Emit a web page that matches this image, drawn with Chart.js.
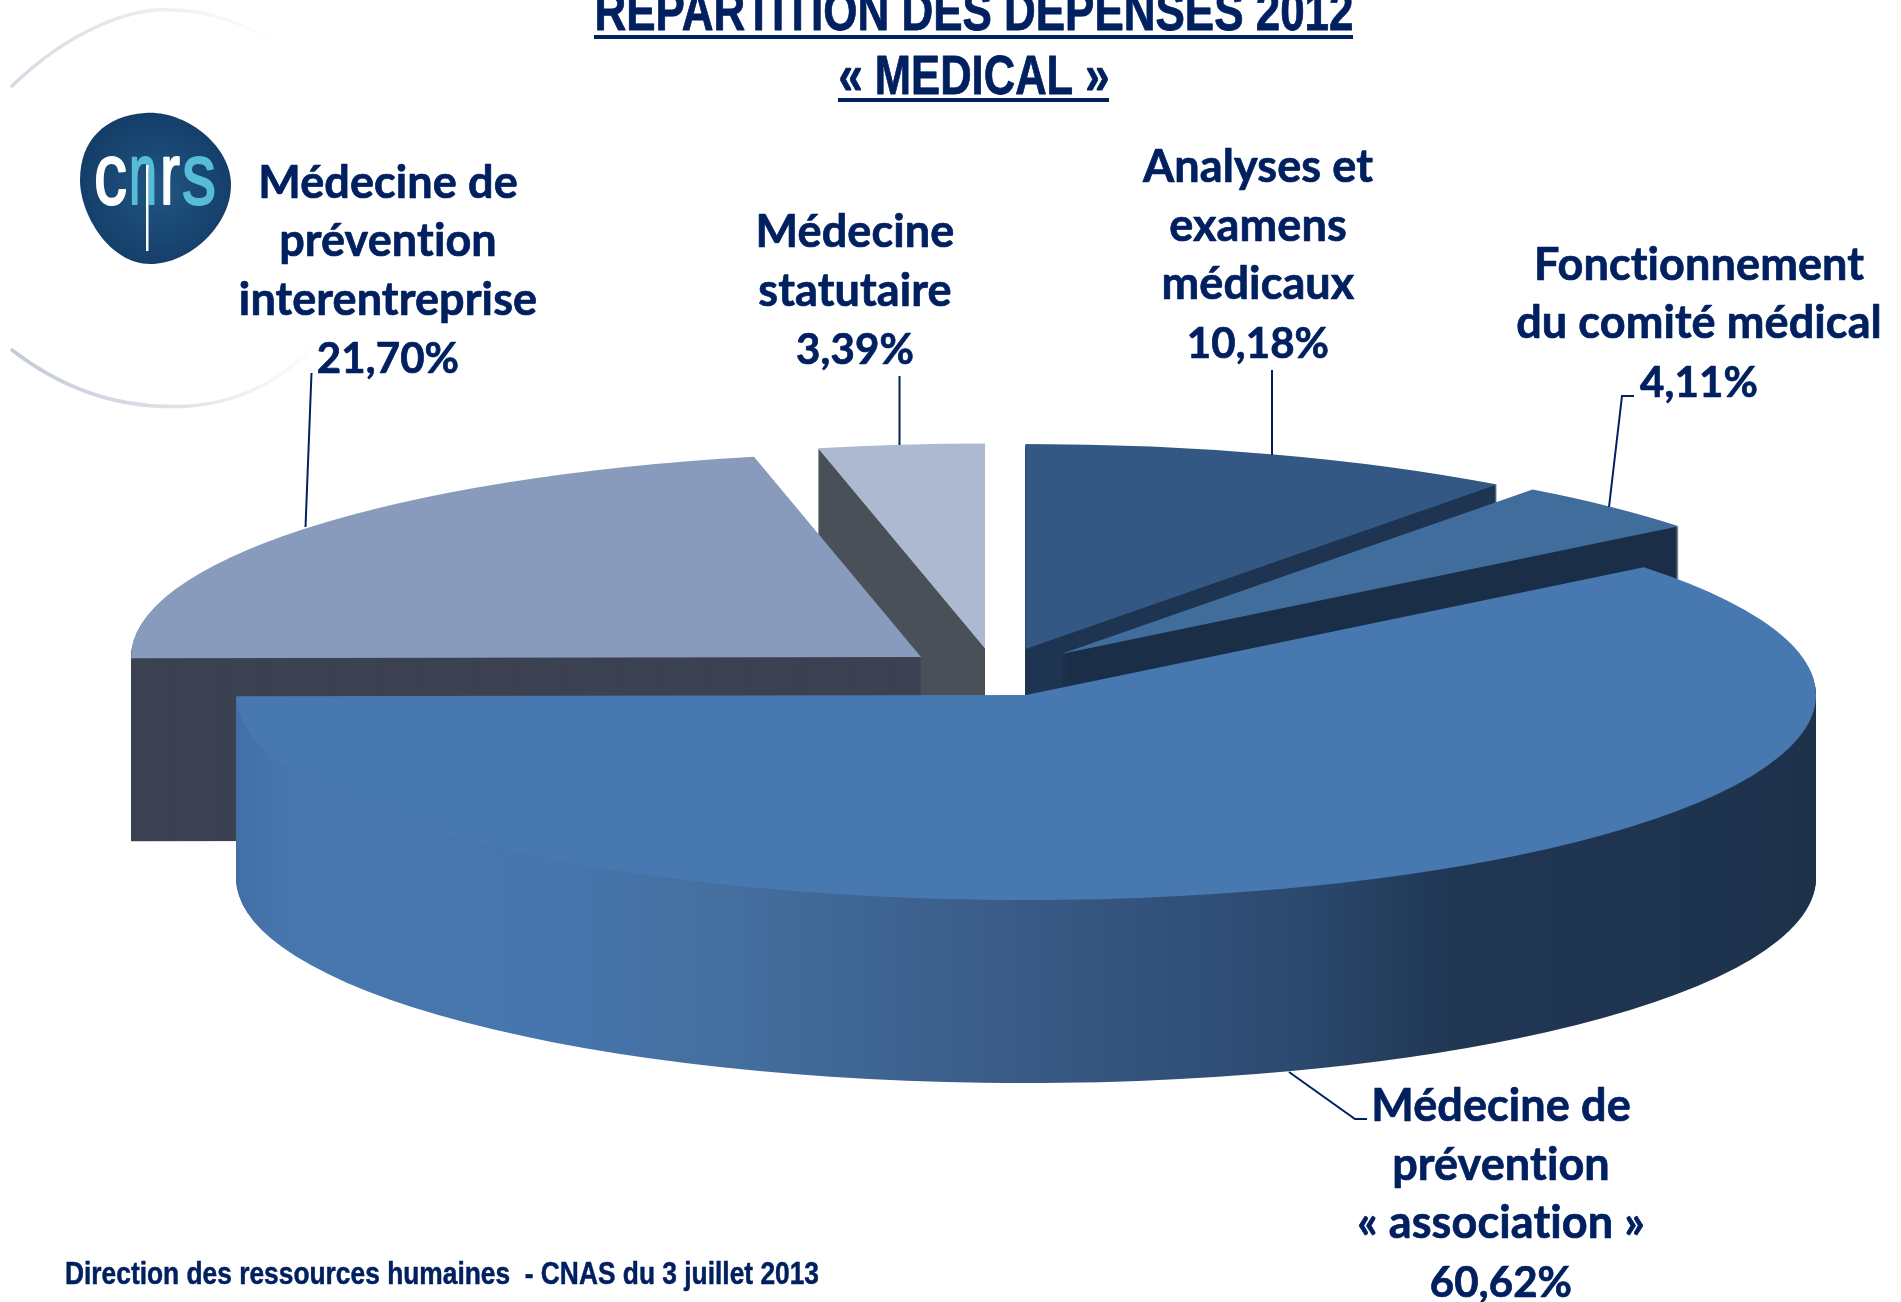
<!DOCTYPE html>
<html lang="fr">
<head>
<meta charset="utf-8">
<title>Répartition des dépenses 2012</title>
<script src="https://cdn.jsdelivr.net/npm/chart.js@4"></script>
<style>
  html, body { margin: 0; padding: 0; background: #fff; overflow: hidden; }
  canvas { display: block; }
</style>
</head>
<body>
<canvas id="myChart" width="1901" height="1302"></canvas>
<script>
// data, clockwise from 12 o'clock
var categories = ["Analyses et examens médicaux", "Fonctionnement du comité médical", "Médecine de prévention « association »", "Médecine de prévention interentreprise", "Médecine statutaire"];
var sliceValues = [10.18, 4.11, 60.62, 21.70, 3.39];
var labelLines = [
    ["Analyses et", "examens", "médicaux"],
    ["Fonctionnement", "du comité médical"],
    ["Médecine de", "prévention", "« association »"],
    ["Médecine de", "prévention", "interentreprise"],
    ["Médecine", "statutaire"]
];
var titleLines = ["REPARTITION DES DEPENSES 2012", "« MEDICAL »"];
var footerText = "Direction des ressources humaines  - CNAS du 3 juillet 2013";

// look of the 3d pie
const navy = '#002060';
const topColors = ['#345884', '#416d9d', '#4878b0', '#889bbd', '#adb9d1'];
const wallColors = ['#1f3552', '#1b2f48', null, '#3c4252', '#4a5058'];
const pieCenter = { x: 1026, y: 695 };
const tilt = 205 / 790;
const depth = 183;
const explode = [[-0.5, -46], [35, -41], [0, 0], [-105, -38], [-41, -46.5]];
const drawOrder = [4, 3, 0, 1, 2];

const labelSpots = [
    { x: 1258, y: 182 },
    { x: 1699, y: 279.5 },
    { x: 1501, y: 1121 },
    { x: 388, y: 197.5 },
    { x: 855, y: 247 }
];
const leaders = [
    [[1272, 370], [1272, 455]],
    [[1634, 396], [1622, 396], [1609, 507]],
    [[1289, 1072], [1355, 1119], [1367, 1119]],
    [[311.5, 373], [305.5, 527]],
    [[899.5, 376], [899.5, 445]]
];

function percent(v) {
    return v.toFixed(2).replace('.', ',') + '%';
}

function placeArc(ctx, arc, i, drop) {
    ctx.translate(pieCenter.x + explode[i][0], pieCenter.y + explode[i][1] + drop);
    ctx.scale(1, tilt);
    ctx.translate(-arc.x, -arc.y);
}

function drawArcWith(ctx, arc, i, drop, fill) {
    const saved = arc.options;
    arc.options = Object.assign({}, saved, { backgroundColor: fill });
    ctx.save();
    placeArc(ctx, arc, i, drop);
    arc.draw(ctx);
    ctx.restore();
    arc.options = saved;
}

// fill plus a thin stroke, the installed faces are lighter than the original ones
function heavyText(ctx, text, x, y, stroke, width) {
    ctx.lineWidth = stroke;
    ctx.lineJoin = 'round';
    ctx.strokeStyle = ctx.fillStyle;
    if (width) {
        ctx.fillText(text, x, y, width);
        ctx.strokeText(text, x, y, width);
    } else {
        ctx.fillText(text, x, y);
        ctx.strokeText(text, x, y);
    }
}

function drawLogo(ctx) {
    // faint swirl behind the logo
    ctx.save();
    ctx.lineCap = 'round';
    let g = ctx.createLinearGradient(12, 0, 280, 0);
    g.addColorStop(0, '#d5dae2');
    g.addColorStop(0.6, '#eef0f4');
    g.addColorStop(1, '#ffffff');
    ctx.strokeStyle = g;
    ctx.lineWidth = 3.5;
    ctx.beginPath();
    ctx.moveTo(12, 86);
    ctx.bezierCurveTo(70, 30, 130, 8, 170, 10);
    ctx.bezierCurveTo(210, 10, 250, 25, 280, 48);
    ctx.stroke();
    g = ctx.createLinearGradient(12, 0, 320, 0);
    g.addColorStop(0, '#c3cbd6');
    g.addColorStop(0.55, '#dfe3e9');
    g.addColorStop(1, '#ffffff');
    ctx.strokeStyle = g;
    ctx.beginPath();
    ctx.moveTo(12, 350);
    ctx.bezierCurveTo(70, 395, 130, 410, 190, 406);
    ctx.bezierCurveTo(240, 402, 285, 380, 318, 340);
    ctx.stroke();

    // blob
    g = ctx.createRadialGradient(160, 190, 10, 155, 190, 85);
    g.addColorStop(0, '#1f5280');
    g.addColorStop(1, '#133c66');
    ctx.fillStyle = g;
    ctx.beginPath();
    ctx.moveTo(145, 113);
    ctx.bezierCurveTo(185, 110, 231, 145, 231, 185);
    ctx.bezierCurveTo(231, 225, 190, 264, 150, 264);
    ctx.bezierCurveTo(110, 264, 80, 215, 80, 180);
    ctx.bezierCurveTo(80, 140, 105, 116, 145, 113);
    ctx.fill();

    // letters
    ctx.textAlign = 'left';
    ctx.textBaseline = 'alphabetic';
    ctx.font = '88px "Liberation Sans"';
    const letters = [['c', 94, 33, '#ffffff'], ['n', 129, 28, '#58bcd9'], ['r', 160, 20, '#ffffff'], ['s', 182, 34, '#58bcd9']];
    letters.forEach(function (l) {
        ctx.fillStyle = l[3];
        heavyText(ctx, l[0], l[1], 204, 2.2, l[2]);
    });
    ctx.fillStyle = '#ffffff';
    ctx.fillRect(146, 165, 2.5, 86);
    ctx.restore();
}

const pie3d = {
    id: 'pie3d',
    beforeDatasetsDraw(chart) {
        const ctx = chart.ctx;
        const arcs = chart.getDatasetMeta(0).data;
        drawOrder.forEach(function (i) {
            const arc = arcs[i];
            let wall = wallColors[i];
            if (!wall) {
                // the big slice shades from left to right
                wall = ctx.createLinearGradient(arc.x - arc.outerRadius, 0, arc.x + arc.outerRadius, 0);
                wall.addColorStop(0, '#426fa5');
                wall.addColorStop(0.04, '#4877b0');
                wall.addColorStop(0.2, '#4775ad');
                wall.addColorStop(0.31, '#446f9f');
                wall.addColorStop(0.5, '#395a85');
                wall.addColorStop(0.667, '#2c4a70');
                wall.addColorStop(0.77, '#203754');
                wall.addColorStop(1, '#1d314b');
            }
            for (let d = depth; d > 0; d--) {
                drawArcWith(ctx, arc, i, d, wall);
            }
            drawArcWith(ctx, arc, i, 0, topColors[i]);
        });
        return false;
    },
    afterDraw(chart) {
        const ctx = chart.ctx;
        ctx.save();
        drawLogo(ctx);

        // leader lines
        ctx.strokeStyle = navy;
        ctx.lineWidth = 2;
        leaders.forEach(function (pts) {
            ctx.beginPath();
            pts.forEach(function (p, n) {
                if (n === 0) ctx.moveTo(p[0], p[1]); else ctx.lineTo(p[0], p[1]);
            });
            ctx.stroke();
        });

        // slice labels, the percentages run a bit narrower
        ctx.fillStyle = navy;
        ctx.textAlign = 'center';
        ctx.textBaseline = 'alphabetic';
        ctx.letterSpacing = '0.1px'; // keeps Lato from joining "ti"
        labelLines.forEach(function (lines, i) {
            ctx.font = 'bold 45px Lato';
            lines.forEach(function (t, n) {
                heavyText(ctx, t, labelSpots[i].x, labelSpots[i].y + n * 58.6, 0.7);
            });
            ctx.font = 'bold 42px Lato';
            heavyText(ctx, percent(sliceValues[i]), labelSpots[i].x, labelSpots[i].y + lines.length * 58.6, 0.7);
        });
        ctx.letterSpacing = '0px';

        // title, its width pulled in like the original narrow face
        ctx.font = 'bold 56px "Liberation Sans"';
        heavyText(ctx, titleLines[0], 974, 30, 0.8, 759);
        ctx.fillRect(594, 35, 759, 4);
        heavyText(ctx, titleLines[1], 974, 94, 0.8, 271);
        ctx.fillRect(838, 98, 271, 4);

        ctx.textAlign = 'left';
        ctx.font = 'bold 32px "Liberation Sans"';
        heavyText(ctx, footerText, 65, 1284, 0.5, 754);
        ctx.restore();
    }
};

const chart = new Chart(document.getElementById('myChart'), {
    type: 'pie',
    data: {
        labels: categories,
        datasets: [{
            data: sliceValues,
            backgroundColor: topColors,
            borderWidth: 0
        }]
    },
    options: {
        responsive: false,
        animation: false,
        radius: 790,
        plugins: {
            legend: { display: false },
            tooltip: { enabled: false }
        }
    },
    plugins: [pie3d]
});
</script>
</body>
</html>
